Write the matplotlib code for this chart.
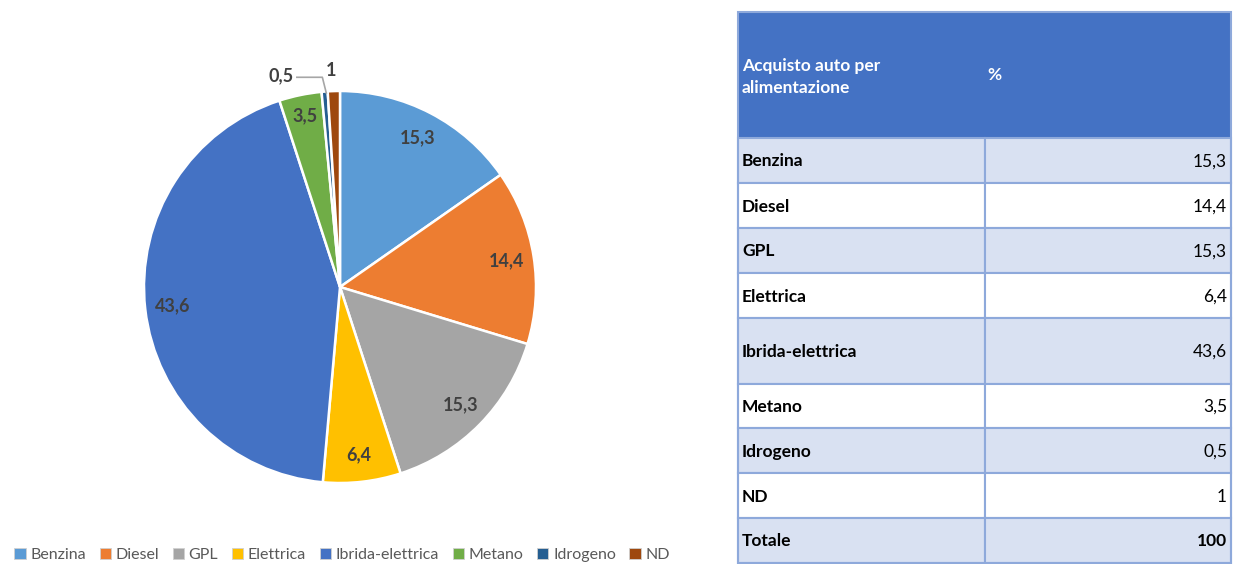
import matplotlib.pyplot as plt
from matplotlib.patches import Rectangle, Patch
import numpy as np

# dati: acquisto auto per alimentazione (%)
categories = ['Benzina', 'Diesel', 'GPL', 'Elettrica', 'Ibrida-elettrica',
              'Metano', 'Idrogeno', 'ND']
values = [15.3, 14.4, 15.3, 6.4, 43.6, 3.5, 0.5, 1]
colors = ['#5B9BD5', '#ED7D31', '#A5A5A5', '#FFC000', '#4472C4',
          '#70AD47', '#255E91', '#9E480E']
header = ['Acquisto auto per\nalimentazione', '%']
total_label = 'Totale'


def fmt(v):
    return f'{v:g}'.replace('.', ',')


plt.rcParams['font.family'] = ['Lato', 'DejaVu Sans']

W, H = 1233, 564
fig = plt.figure(figsize=(W / 100, H / 100), dpi=100)

# --- torta ---
cx, cy, r = 340, 287, 196
ax = fig.add_axes([(cx - r) / W, (H - cy - r) / H, 2 * r / W, 2 * r / H])
wedges, _ = ax.pie(values, colors=colors, startangle=90, counterclock=False,
                   radius=1, wedgeprops=dict(edgecolor='white', linewidth=1.8))
ax.set_xlim(-1, 1)
ax.set_ylim(-1, 1)
ax.axis('off')

cum = np.cumsum([0] + values[:-1])
for i, v in enumerate(values):
    if v < 1.5:
        continue
    ang = np.deg2rad(90 - (cum[i] + v / 2) * 3.6)
    d = 0.86 if v > 5 else 0.89
    ax.text(d * np.cos(ang), d * np.sin(ang), fmt(v), ha='center', va='center',
            fontsize=13, fontweight='bold', color='#404040')

# etichette fuori per le fette piccole
ax.text(-0.30, 1.08, fmt(values[6]), ha='center', va='center', fontsize=13,
        fontweight='bold', color='#404040')
ax.plot([-0.22, -0.09, -0.07], [1.07, 1.07, 0.99], color='#A6A6A6', lw=1.2,
        clip_on=False)
ax.text(-0.046, 1.107, fmt(values[7]), ha='center', va='center', fontsize=13,
        fontweight='bold', color='#404040')

handles = [Patch(facecolor=c, edgecolor='#D0D0D0', linewidth=0.6, label=l)
           for c, l in zip(colors, categories)]
fig.legend(handles=handles, loc='center left', bbox_to_anchor=(0 / W, 1 - 555 / H),
           ncol=8, frameon=False, fontsize=11.5, handlelength=0.7, handleheight=0.7,
           handletextpad=0.3, columnspacing=0.85, labelcolor='#595959')

# --- tabella ---
tx0, tx1, tcol = 738, 1231, 985
row_h = [126, 45, 45, 45, 45, 66, 44, 45, 45, 45]
tax = fig.add_axes([0, 0, 1, 1])
tax.set_xlim(0, W)
tax.set_ylim(H, 0)
tax.axis('off')

border = '#8EA9DB'
fs = 12.5
y = 12
names = [header[0]] + categories + [total_label]
vals = [header[1]] + [fmt(v) for v in values] + [fmt(sum(values))]
for i, (n, v) in enumerate(zip(names, vals)):
    h = row_h[i]
    if i == 0:
        tax.add_patch(Rectangle((tx0, y), tx1 - tx0, h, facecolor='#4472C4',
                                edgecolor='none'))
        tax.text(tx0 + 4, y + h / 2 + 2, n, ha='left', va='center', fontsize=fs,
                 fontweight='bold', color='white', linespacing=1.45)
        tax.text(tcol + 2, y + h / 2, v, ha='left', va='center', fontsize=fs,
                 fontweight='bold', color='white')
    else:
        fc = '#D9E1F2' if i % 2 == 1 else 'white'
        for xa, xb in [(tx0, tcol), (tcol, tx1)]:
            tax.add_patch(Rectangle((xa, y), xb - xa, h, facecolor=fc,
                                    edgecolor=border, linewidth=1.5))
        tax.text(tx0 + 4, y + h / 2 + 1, n, ha='left', va='center', fontsize=fs,
                 fontweight='bold', color='black')
        tax.text(tx1 - 4, y + h / 2 + 1, v, ha='right', va='center', fontsize=fs,
                 fontweight='bold' if n == total_label else 'normal', color='black')
    y += h

tax.add_patch(Rectangle((tx0, 12), tx1 - tx0, y - 12, facecolor='none',
                        edgecolor=border, linewidth=1.5))

fig.savefig('out.png', dpi=100)
